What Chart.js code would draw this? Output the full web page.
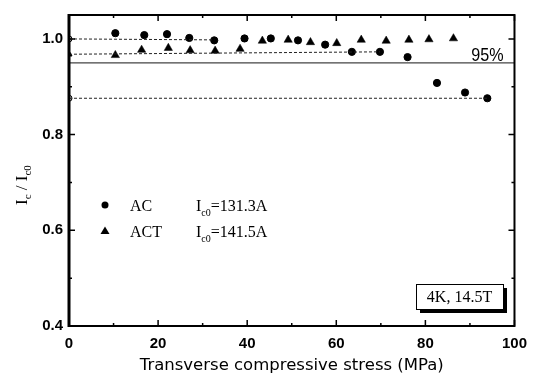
<!DOCTYPE html>
<html>
<head>
<meta charset="utf-8">
<script src="https://cdn.jsdelivr.net/npm/chart.js@4"></script>
<style>
  html, body { margin: 0; padding: 0; background: #fff; }
  #wrap { width: 536px; height: 376px; }
</style>
</head>
<body>
<div id="wrap"><canvas id="chart" width="536" height="376"></canvas></div>
<script>
/* ---------- data ---------- */
const acStress = [10.4, 16.9, 22.0, 27.0, 32.6, 39.4, 45.3, 51.4, 57.5, 63.5, 69.8, 76.0, 82.6, 88.9, 93.9];
const acRatio  = [1.012, 1.008, 1.010, 1.002, 0.997, 1.001, 1.001, 0.997, 0.988, 0.973, 0.973, 0.962, 0.908, 0.888, 0.876];

const actStress = [10.4, 16.3, 22.3, 27.2, 32.8, 38.4, 43.4, 49.2, 54.2, 60.1, 65.6, 71.2, 76.3, 80.8, 86.3];
const actRatio  = [0.966, 0.977, 0.981, 0.976, 0.975, 0.979, 0.996, 0.998, 0.993, 0.991, 0.998, 0.996, 0.998, 0.999, 1.001];

// open reference markers sitting on the y axis
const startStress = [0, 0, 0];
const startRatio  = [1.0, 0.968, 0.876];

// dotted guide lines (start, end)
const guideStress = [[0, 32.6], [0, 69.8], [0, 93.9]];
const guideRatio  = [[1.0, 0.998], [0.968, 0.973], [0.876, 0.876]];

const limitStress = [0, 100];
const limitRatio  = [0.95, 0.95];

const xTicks = [0, 20, 40, 60, 80, 100];
const yTicks = [0.4, 0.6, 0.8, 1.0];

const pts = (xs, ys) => xs.map((x, i) => ({ x, y: ys[i] }));

/* ---------- datasets ---------- */
const datasets = [];

guideStress.forEach((g, i) => {
  datasets.push({
    type: 'line', data: pts(g, guideRatio[i]),
    borderColor: '#222', borderWidth: 1, borderDash: [3, 2],
    pointRadius: 0, fill: false
  });
});

datasets.push({
  type: 'line', data: pts(limitStress, limitRatio),
  borderColor: '#444', borderWidth: 1.3, pointRadius: 0, fill: false
});

datasets.push({
  label: 'AC', data: pts(acStress, acRatio),
  pointStyle: 'circle', pointRadius: 3.6,
  backgroundColor: '#000', borderColor: '#000', borderWidth: 1
});

datasets.push({
  label: 'ACT', data: pts(actStress, actRatio),
  pointStyle: 'triangle', pointRadius: 4.8,
  backgroundColor: '#000', borderColor: '#000', borderWidth: 0.5
});

datasets.push({
  data: pts(startStress, startRatio),
  pointStyle: ['circle', 'triangle', 'circle'],
  pointRadius: [3, 3.5, 3],
  backgroundColor: ['#fff', '#000', '#fff'],
  borderColor: '#000', borderWidth: 1
});

/* ---------- extras: frame, inward ticks, texts ---------- */
const extras = {
  id: 'extras',
  afterDatasetsDraw(chart) {
    const { ctx, chartArea: a, scales } = chart;
    const xs = scales.x, ys = scales.y;
    ctx.save();

    // frame
    ctx.strokeStyle = '#000';
    ctx.lineWidth = 2;
    ctx.strokeRect(a.left, a.top, a.right - a.left, a.bottom - a.top);
    ctx.lineWidth = 3;
    ctx.beginPath();
    ctx.moveTo(a.left, a.top - 1); ctx.lineTo(a.left, a.bottom + 1);
    ctx.stroke();

    // inward ticks (major + minor)
    ctx.lineWidth = 1.5;
    ctx.beginPath();
    for (let v = 0; v <= 100; v += 10) {
      const px = xs.getPixelForValue(v);
      const len = v % 20 === 0 ? 6 : 3;
      ctx.moveTo(px, a.bottom); ctx.lineTo(px, a.bottom - len);
      ctx.moveTo(px, a.top); ctx.lineTo(px, a.top + len);
    }
    for (let k = 4; k <= 10; k++) {
      const py = ys.getPixelForValue(k / 10);
      const len = k % 2 === 0 ? 6 : 3;
      ctx.moveTo(a.left, py); ctx.lineTo(a.left + len, py);
      ctx.moveTo(a.right, py); ctx.lineTo(a.right - len, py);
    }
    ctx.stroke();

    // 95% label (tall, narrow)
    ctx.fillStyle = '#000';
    ctx.save();
    ctx.translate(a.right - 11, ys.getPixelForValue(0.95) - 2);
    ctx.scale(0.85, 1);
    ctx.font = '19px "Liberation Sans", sans-serif';
    ctx.textAlign = 'right';
    ctx.textBaseline = 'alphabetic';
    ctx.fillText('95%', 0, 0);
    ctx.restore();

    // y axis title: I_c / I_c0
    ctx.save();
    ctx.translate(27, 181);
    ctx.rotate(-Math.PI / 2);
    ctx.textAlign = 'left';
    const big = '17px "Liberation Serif", serif';
    const sub = '11px "Liberation Serif", serif';
    let cx = -24;
    const part = (t, f, dy) => { ctx.font = f; ctx.fillText(t, cx, dy); cx += ctx.measureText(t).width; };
    part('I', big, 0); part('c', sub, 4); part(' / ', big, 0); part('I', big, 0); part('c0', sub, 4);
    ctx.restore();

    // legend
    const serif = '16px "Liberation Serif", serif';
    const serifSub = '10px "Liberation Serif", serif';
    ctx.beginPath();
    ctx.arc(105, 205, 3.5, 0, Math.PI * 2);
    ctx.fill();
    ctx.beginPath();
    ctx.moveTo(105, 226.5); ctx.lineTo(109.5, 234); ctx.lineTo(100.5, 234);
    ctx.closePath(); ctx.fill();
    const legendRow = (name, value, y) => {
      ctx.textAlign = 'left';
      ctx.font = serif; ctx.fillText(name, 130, y);
      let lx = 196;
      ctx.fillText('I', lx, y); lx += ctx.measureText('I').width;
      ctx.font = serifSub; ctx.fillText('c0', lx, y + 5); lx += ctx.measureText('c0').width;
      ctx.font = serif; ctx.fillText(value, lx, y);
    };
    legendRow('AC', '=131.3A', 211);
    legendRow('ACT', '=141.5A', 237);

    // condition box with shadow
    const bx = 416, by = 284, bw = 87, bh = 25;
    ctx.fillStyle = '#000';
    ctx.fillRect(bx + 4, by + 4, bw, bh);
    ctx.fillStyle = '#fff';
    ctx.fillRect(bx, by, bw, bh);
    ctx.strokeStyle = '#000';
    ctx.lineWidth = 1;
    ctx.strokeRect(bx + 0.5, by + 0.5, bw, bh);
    ctx.fillStyle = '#000';
    ctx.font = '16px "Liberation Serif", serif';
    ctx.textAlign = 'center';
    ctx.fillText('4K, 14.5T', bx + bw / 2, by + 18);

    ctx.restore();
  }
};

new Chart(document.getElementById('chart'), {
  type: 'scatter',
  data: { datasets },
  options: {
    responsive: false,
    animation: false,
    layout: { padding: { top: 12, right: 16, left: 0, bottom: 0 } },
    plugins: { legend: { display: false }, tooltip: { enabled: false } },
    scales: {
      x: {
        type: 'linear', min: 0, max: 100,
        afterBuildTicks: s => { s.ticks = xTicks.map(v => ({ value: v })); },
        afterFit: s => { s.height = 50; },
        grid: { display: false, drawTicks: false },
        border: { display: false },
        ticks: {
          padding: 9, color: '#000',
          font: { family: '"Liberation Sans", Arial, sans-serif', size: 15, weight: 'bold' }
        },
        title: {
          display: true, text: 'Transverse compressive stress (MPa)', color: '#000',
          font: { family: '"DejaVu Sans", sans-serif', size: 16.5 },
          padding: { top: 1, bottom: 0 }
        }
      },
      y: {
        type: 'linear', min: 0.4, max: 1.05,
        afterBuildTicks: s => { s.ticks = yTicks.map(v => ({ value: v })); },
        afterFit: s => { s.width = 69; },
        grid: { display: false, drawTicks: false },
        border: { display: false },
        ticks: {
          padding: 6, color: '#000',
          callback: v => v.toFixed(1),
          font: { family: '"Liberation Sans", Arial, sans-serif', size: 15, weight: 'bold' }
        }
      }
    }
  },
  plugins: [extras]
});
</script>
</body>
</html>
